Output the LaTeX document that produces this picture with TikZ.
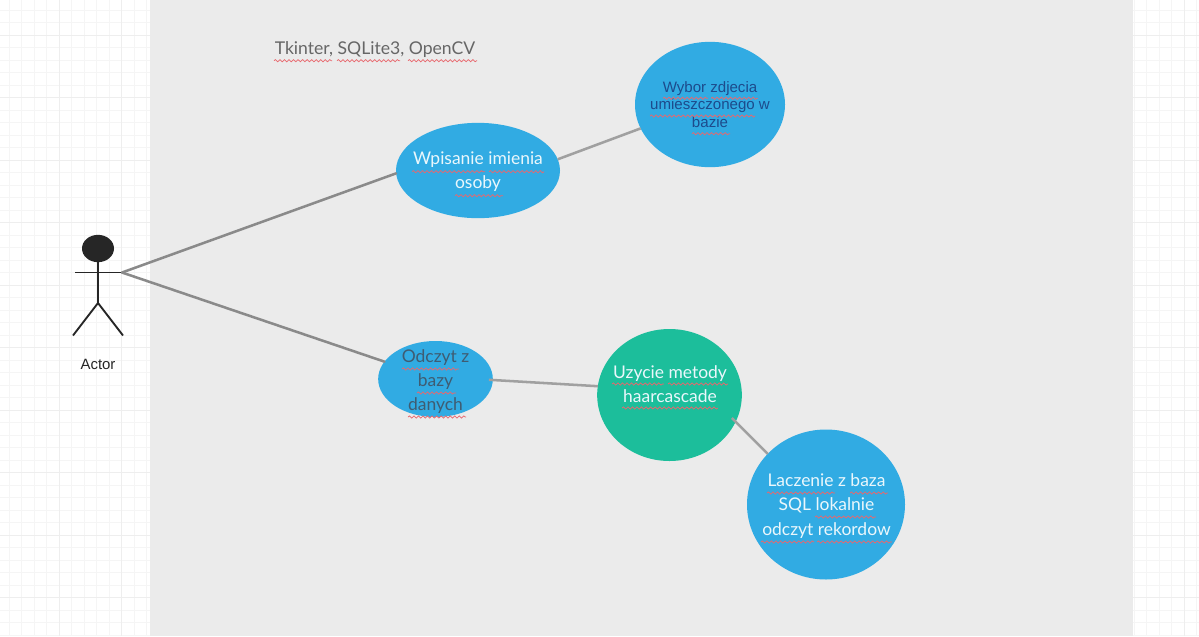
\documentclass[tikz,border=0pt]{standalone}
\usepackage{fontspec}
\setmainfont{Lato}
\newfontfamily\arialfont{Liberation Sans}
\usetikzlibrary{shapes.geometric,decorations.pathmorphing}
\definecolor{panelgray}{HTML}{EBEBEB}
\definecolor{bubbleblue}{HTML}{31ABE3}
\definecolor{bubblegreen}{HTML}{1CBE9B}
\definecolor{stickdark}{HTML}{262626}
\definecolor{linkdark}{HTML}{8A8A8A}
\definecolor{linklight}{HTML}{A0A0A0}
\definecolor{gridminor}{HTML}{F5F5F5}
\definecolor{gridmajor}{HTML}{EEEEEE}
\definecolor{wavyred}{HTML}{E8686E}
\definecolor{lighttext}{HTML}{EAF7FC}
\definecolor{slatetext}{HTML}{3F5C72}
\definecolor{navytext}{HTML}{1D4B8C}
\definecolor{greytext}{HTML}{666666}
\tikzset{
  bubble/.style={ellipse,inner sep=0pt,outer sep=0pt,fill=#1,draw=none},
  bubbletext/.style={align=center,font=\fontsize{13.1pt}{18.2pt}\selectfont,text=#1,inner sep=0pt},
  linkheavy/.style={draw=linkdark,line width=1.9pt},
  linkthin/.style={draw=linklight,line width=1.9pt},
  stick/.style={draw=stickdark,line width=1.4pt},
  wavy/.style={draw=wavyred,line width=0.55pt,decorate,decoration={snake,segment length=3.4pt,amplitude=0.8pt}}
}
\newcommand{\wavyline}[3]{\draw[wavy] (#1,#3) -- (#2,#3);}
\begin{document}
\begin{tikzpicture}[x=0.75pt,y=-0.75pt]
\useasboundingbox (0,0) rectangle (1199,636);
\fill[white] (0,0) rectangle (1199,636);
% grid
\foreach \i in {0,...,95} {
  \pgfmathsetmacro{\gx}{9.4+12.5*\i}
  \draw[gridminor,line width=0.7pt] (\gx,0) -- (\gx,636);
}
\foreach \i in {0,...,50} {
  \pgfmathsetmacro{\gy}{10+12.5*\i}
  \draw[gridminor,line width=0.7pt] (0,\gy) -- (1199,\gy);
}
\foreach \i in {0,...,19} {
  \pgfmathsetmacro{\gx}{59.4+62.5*\i}
  \draw[gridmajor,line width=0.7pt] (\gx,0) -- (\gx,636);
}
\foreach \i in {0,...,9} {
  \pgfmathsetmacro{\gy}{35+62.5*\i}
  \draw[gridmajor,line width=0.7pt] (0,\gy) -- (1199,\gy);
}
\fill[panelgray] (149.5,0) rectangle (1133,636);

% actor
\coordinate (neck) at (98,258);
\coordinate (hip) at (98,303);
\coordinate (armL) at (75,272.5);
\coordinate (armR) at (122,272.5);
\coordinate (footL) at (73,335.5);
\coordinate (footR) at (123,335.5);
\draw[stick] (neck) -- (hip);
\draw[stick] (armL) -- (armR);
\draw[stick] (footL) -- (hip) -- (footR);
\node[ellipse,inner sep=0pt,fill=stickdark,minimum width=24pt,minimum height=20.5pt] (head) at (98,248.5) {};
\node[font=\arialfont\fontsize{11.2pt}{12pt}\selectfont,text=stickdark,inner sep=0pt] (actorlabel) at (98,364) {Actor};

% title
\node[font=\fontsize{13.2pt}{16pt}\selectfont,text=greytext,inner sep=0pt,anchor=base west] (title) at (274.5,54) {Tkinter, SQLite3, OpenCV};

% bubbles
\node[bubble=bubbleblue,minimum width=123pt,minimum height=71.5pt] (wp) at (478,170.5) {};
\node[bubble=bubbleblue,minimum width=112.5pt,minimum height=94pt] (wy) at (710,104.5) {};
\node[bubble=bubbleblue,minimum width=86pt,minimum height=57pt] (od) at (435.5,379) {};
\node[bubble=bubblegreen,minimum width=108.5pt,minimum height=99pt] (uz) at (669.5,395) {};
\node[bubble=bubbleblue,minimum width=118.5pt,minimum height=112.5pt] (la) at (826,504.5) {};

% connectors
\draw[linkheavy,line cap=round] (armR) -- (wp.182);
\draw[linkheavy,line cap=round] (armR) -- (od);
\draw[linkthin] (wp.8) -- (wy.199);
\draw[linkthin,shorten <=-3pt] (od.-1) -- (uz.173);
\draw[linkthin,shorten <=-4pt] (uz.-22) -- (la.139);

% labels
\node[bubbletext=lighttext] (wptext) at (478,171.5) {Wpisanie imienia\\osoby};
\node[bubbletext=navytext,font=\arialfont\fontsize{11.3pt}{13.3pt}\selectfont] (wytext) at (710,104.5) {Wybor zdjecia\\umieszczonego w\\bazie};
\node[bubbletext=slatetext] (odtext) at (435.5,381.5) {Odczyt z\\bazy\\danych};
\node[bubbletext=lighttext] (uztext) at (670,384) {Uzycie metody\\haarcascade};
\node[bubbletext=lighttext] (latext) at (826.5,506) {Laczenie z baza\\SQL lokalnie\\odczyt rekordow};

% spell-check underlines
\wavyline{274}{332}{60.7}
\wavyline{337}{400}{60.7}
\wavyline{408}{477}{60.7}
\wavyline{412}{485}{171.7}
\wavyline{489}{544}{171.7}
\wavyline{455}{503}{195.7}
\wavyline{663}{708}{98.3}
\wavyline{711}{758}{98.3}
\wavyline{650}{755}{116}
\wavyline{692}{730}{133.7}
\wavyline{402}{459}{369}
\wavyline{417}{456}{393}
\wavyline{408}{466}{417}
\wavyline{612}{664}{384}
\wavyline{668}{728}{384}
\wavyline{622}{718}{408}
\wavyline{767}{835}{493}
\wavyline{850}{888}{493}
\wavyline{815}{876}{517}
\wavyline{761}{814}{542}
\wavyline{817}{892}{542}
\end{tikzpicture}
\end{document}
